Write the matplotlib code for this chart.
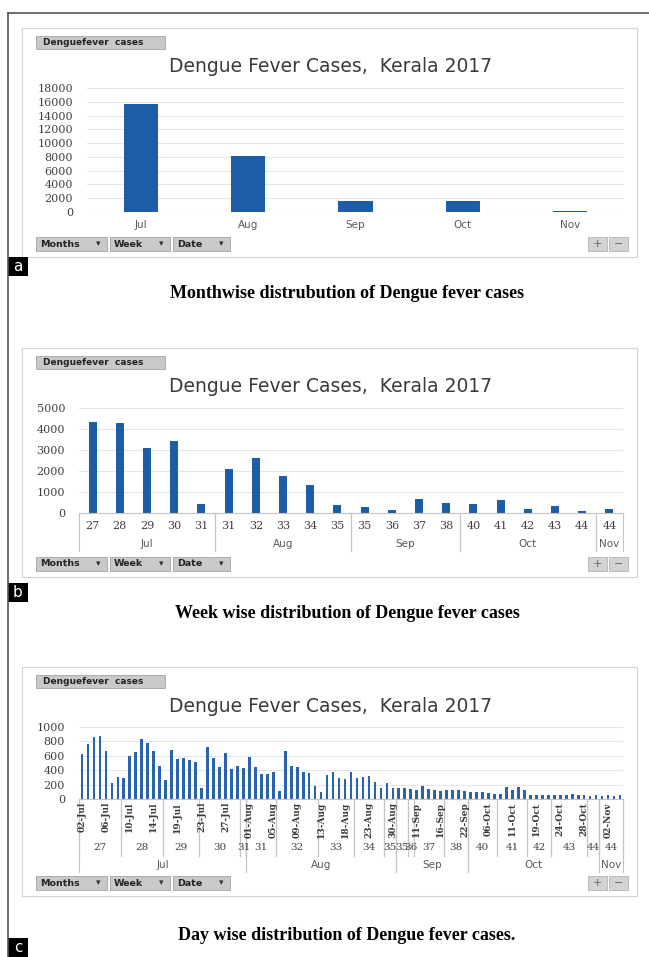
import numpy as np
import matplotlib.pyplot as plt
from matplotlib.patches import Rectangle
from matplotlib.lines import Line2D
from matplotlib.transforms import blended_transform_factory

# --- values ---
months_a = ["Jul", "Aug", "Sep", "Oct", "Nov"]
cases_a = [15650, 8200, 1660, 1660, 200]

weeks_b = ["27", "28", "29", "30", "31", "31", "32", "33", "34", "35",
           "35", "36", "37", "38", "40", "41", "42", "43", "44", "44"]
months_b = ["Jul", "Jul", "Jul", "Jul", "Jul", "Aug", "Aug", "Aug", "Aug", "Aug",
            "Sep", "Sep", "Sep", "Sep", "Oct", "Oct", "Oct", "Oct", "Oct", "Nov"]
cases_b = [4330, 4280, 3100, 3450, 425, 2090, 2610, 1750, 1320, 360,
           300, 160, 680, 490, 425, 615, 205, 345, 95, 190]

dates_c = [
    "02-Jul", "03-Jul", "04-Jul", "05-Jul", "06-Jul", "07-Jul", "08-Jul",
    "09-Jul", "10-Jul", "11-Jul", "12-Jul", "13-Jul", "14-Jul", "15-Jul",
    "17-Jul", "18-Jul", "19-Jul", "20-Jul", "21-Jul", "22-Jul",
    "23-Jul", "24-Jul", "25-Jul", "26-Jul", "27-Jul", "28-Jul", "29-Jul",
    "31-Jul",
    "01-Aug", "02-Aug", "03-Aug", "04-Aug", "05-Aug",
    "06-Aug", "07-Aug", "08-Aug", "09-Aug", "10-Aug", "11-Aug", "12-Aug",
    "13-Aug", "14-Aug", "16-Aug", "17-Aug", "18-Aug", "19-Aug",
    "21-Aug", "22-Aug", "23-Aug", "24-Aug", "25-Aug",
    "29-Aug", "30-Aug",
    "01-Sep", "02-Sep",
    "09-Sep",
    "11-Sep", "12-Sep", "13-Sep", "14-Sep", "16-Sep",
    "19-Sep", "20-Sep", "21-Sep", "22-Sep",
    "03-Oct", "04-Oct", "05-Oct", "06-Oct", "07-Oct",
    "09-Oct", "10-Oct", "11-Oct", "12-Oct", "13-Oct",
    "18-Oct", "19-Oct", "20-Oct", "21-Oct",
    "23-Oct", "24-Oct", "25-Oct", "26-Oct", "27-Oct", "28-Oct",
    "30-Oct", "31-Oct",
    "01-Nov", "02-Nov", "03-Nov", "04-Nov",
]
week_labels_c = ["27", "28", "29", "30", "31", "31", "32", "33", "34", "35",
                 "35", "36", "37", "38", "40", "41", "42", "43", "44", "44"]
week_sizes_c = [7, 7, 6, 7, 1, 5, 7, 6, 5, 2, 2, 1, 5, 4, 5, 5, 4, 6, 2, 4]
cases_c = [
    620, 760, 860, 870, 670, 220, 300,
    290, 600, 655, 840, 780, 660, 465,
    260, 680, 555, 575, 540, 510,
    155, 720, 565, 445, 640, 420, 465,
    430,
    590, 440, 350, 350, 380,
    110, 670, 460, 450, 370, 355, 180,
    95, 340, 375, 285, 275, 370,
    285, 310, 325, 240, 155,
    220, 155,
    150, 150,
    145,
    130, 180, 140, 120, 110,
    120, 125, 120, 105,
    100, 100, 95, 80, 75,
    65, 160, 130, 160, 120,
    50, 50, 50, 55,
    50, 55, 60, 70, 55, 55,
    45, 50,
    45, 50, 45, 50,
]

TITLE = "Dengue Fever Cases,  Kerala 2017"
BLUE = "#1d5ca7"
GRID = "#dfe6ee"
AXIS = "#c4c4c4"

W, H = 649, 957
fig = plt.figure(figsize=(W / 100, H / 100), dpi=100)


def fy(y):
    return 1 - y / H


def rect(x0, y0, x1, y1, **kw):
    fig.add_artist(Rectangle((x0 / W, fy(y1)), (x1 - x0) / W, (y1 - y0) / H,
                             transform=fig.transFigure, **kw))


def text(x, y, s, **kw):
    fig.text(x / W, fy(y), s, **kw)


def runs(keys):
    out, start = [], 0
    for i in range(1, len(keys) + 1):
        if i == len(keys) or keys[i] != keys[start]:
            out.append((keys[start], start, i - 1))
            start = i
    return out


def panel_frame(top):
    rect(22, top, 637, top + 229, fc="white", ec="#d3d3d3", lw=0.8, zorder=-5)
    rect(36, top + 8, 165, top + 21, fc="#c9c9c9", ec="#a3a3a3", lw=0.6)
    text(43, top + 14.5, "Denguefever  cases", fontsize=6.5, fontweight="bold",
         va="center", color="#222222")
    text(331, top + 39, TITLE, ha="center", va="center", fontsize=13.5, color="#3a3a3a")
    yb = top + 209
    for x0, x1, lab in [(36, 107, "Months"), (110, 170, "Week"), (173, 230, "Date")]:
        rect(x0, yb, x1, yb + 14, fc="#c9c9c9", ec="#a3a3a3", lw=0.6)
        text(x0 + 4, yb + 7, lab, fontsize=6.8, fontweight="bold", va="center", color="#222222")
        text(x1 - 9, yb + 7, "▾", fontsize=6.5, ha="center", va="center", color="#333333")
    for x0, sym in [(588, "+"), (609, "−")]:
        rect(x0, yb, x0 + 19, yb + 14, fc="#d3d3d3", ec="#b3b3b3", lw=0.6)
        text(x0 + 9.5, yb + 7, sym, fontsize=8, ha="center", va="center", color="#666666")


def make_axes(x0, y0, x1, y1, n, ymax, step):
    ax = fig.add_axes([x0 / W, fy(y1), (x1 - x0) / W, (y1 - y0) / H])
    ax.set_zorder(2)
    ax.set_xlim(-0.5, n - 0.5)
    ax.set_ylim(0, ymax)
    ax.set_yticks(np.arange(0, ymax + 1, step))
    ax.set_xticks([])
    for s in ax.spines.values():
        s.set_visible(False)
    ax.tick_params(axis="y", length=0, pad=10, labelsize=8, labelcolor="#404040",
                   labelfontfamily="DejaVu Serif")
    ax.grid(axis="y", color=GRID, lw=0.8)
    ax.set_axisbelow(True)
    ax.patch.set_alpha(0)
    return ax


def letter(y0, s):
    rect(8, y0, 28, y0 + 19, fc="black", ec="none")
    text(18, y0 + 9.5, s, color="white", fontsize=11, ha="center", va="center")


def caption(y, s):
    text(347, y, s, ha="center", va="center", fontsize=13, fontweight="bold",
         family="Liberation Serif", color="black")


# outer frame lines
fig.add_artist(Line2D([8 / W, 8 / W], [fy(13), 0], transform=fig.transFigure, color="#555555", lw=1.2))
fig.add_artist(Line2D([8 / W, 1], [fy(13), fy(13)], transform=fig.transFigure, color="#555555", lw=1.2))

# --- a: month wise ---
panel_frame(28)
ax = make_axes(87, 88, 624, 212, len(months_a), 18000, 2000)
ax.bar(range(len(months_a)), cases_a, width=0.32, color=BLUE)
T = blended_transform_factory(ax.transData, fig.transFigure)
for i, m in enumerate(months_a):
    ax.text(i, fy(225), m, transform=T, ha="center", va="center", fontsize=7.5, color="#595959")
letter(257, "a")
caption(294, "Monthwise distrubution of Dengue fever cases")

# --- b: week wise ---
panel_frame(348)
ax = make_axes(79, 408, 623, 513, len(cases_b), 5000, 1000)
ax.bar(range(len(cases_b)), cases_b, width=0.3, color=BLUE)
ax.spines["bottom"].set_visible(True)
ax.spines["bottom"].set_color(AXIS)
T = blended_transform_factory(ax.transData, fig.transFigure)
for i, w in enumerate(weeks_b):
    ax.text(i, fy(526), w, transform=T, ha="center", va="center", fontsize=8,
            family="DejaVu Serif", color="#404040")
for m, s, e in runs(months_b):
    ax.text((s + e) / 2, fy(544), m, transform=T, ha="center", va="center", fontsize=7.5, color="#595959")
    for xb in (s - 0.5, e + 0.5):
        ax.add_line(Line2D([xb, xb], [fy(513), fy(551)], transform=T, color=AXIS, lw=0.8, clip_on=False))
letter(583, "b")
caption(613, "Week wise distribution of Dengue fever cases")

# --- c: day wise ---
panel_frame(667)
n = len(cases_c)
ax = make_axes(79, 727, 623, 799, n, 1000, 200)
ax.bar(range(n), cases_c, width=0.45, color="#2a62ad")
ax.spines["bottom"].set_visible(True)
ax.spines["bottom"].set_color(AXIS)
T = blended_transform_factory(ax.transData, fig.transFigure)
for i in range(0, n, 4):
    ax.text(i, fy(802), dates_c[i], transform=T, ha="center", va="top", rotation=90,
            fontsize=6.5, fontweight="bold", family="DejaVu Serif", color="#3a3a3a")
months_c = [d[3:] for d in dates_c]
weeks_c = []
for w, k in zip(week_labels_c, week_sizes_c):
    weeks_c += [w] * k
for (m, w), s, e in runs(list(zip(months_c, weeks_c))):
    ax.text((s + e) / 2, fy(847), w, transform=T, ha="center", va="center", fontsize=7.5,
            family="DejaVu Serif", color="#404040")
    for xb in (s - 0.5, e + 0.5):
        ax.add_line(Line2D([xb, xb], [fy(799), fy(856)], transform=T, color=AXIS, lw=0.8, clip_on=False))
for m, s, e in runs(months_c):
    ax.text((s + e) / 2, fy(865), m, transform=T, ha="center", va="center", fontsize=7.5, color="#595959")
    for xb in (s - 0.5, e + 0.5):
        ax.add_line(Line2D([xb, xb], [fy(799), fy(872)], transform=T, color=AXIS, lw=0.8, clip_on=False))
caption(935, "Day wise distribution of Dengue fever cases.")
letter(938, "c")

fig.savefig("out.png", dpi=100)
